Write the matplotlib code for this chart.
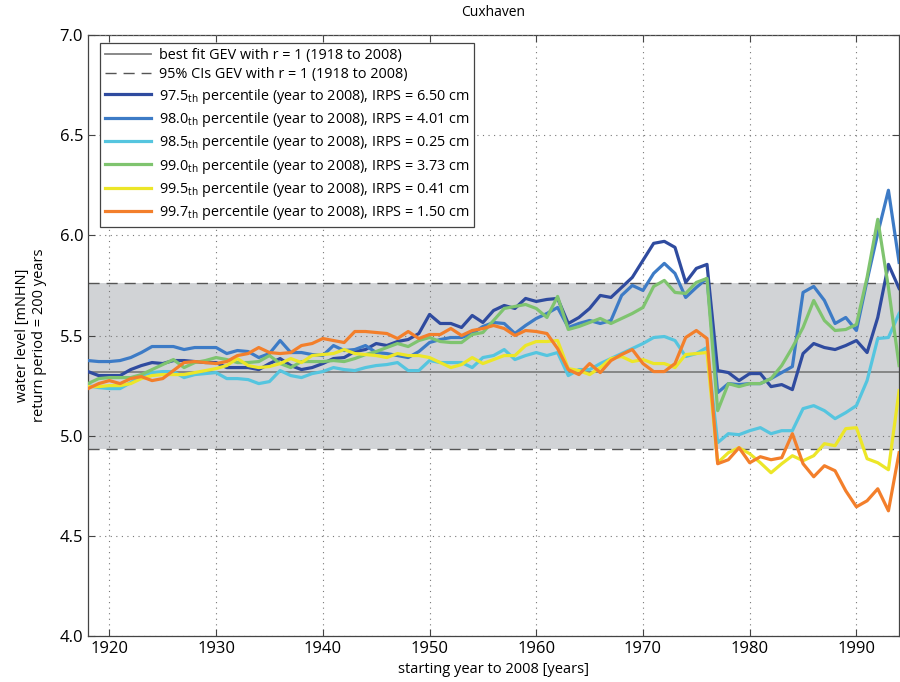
## Cuxhaven return level chart

import numpy as np
import matplotlib
matplotlib.use("Agg")
import matplotlib.pyplot as plt

## -----------------------
## Data
years = list(range(1918, 1995))

ci_low = 4.935
ci_high = 5.76
best_fit = 5.32

p975 = [5.32, 5.30, 5.30, 5.30, 5.33, 5.35, 5.365, 5.36, 5.375, 5.375,
        5.37, 5.365, 5.365, 5.34, 5.34, 5.34, 5.33, 5.36, 5.385, 5.35,
        5.33, 5.34, 5.36, 5.385, 5.39, 5.42, 5.43, 5.46, 5.45, 5.47,
        5.48, 5.51, 5.605, 5.56, 5.56, 5.54, 5.60, 5.565, 5.625, 5.65,
        5.635, 5.685, 5.67, 5.68, 5.685, 5.56, 5.59, 5.635, 5.70, 5.69,
        5.74, 5.79, 5.875, 5.96, 5.97, 5.94, 5.765, 5.835, 5.855, 5.325,
        5.315, 5.275, 5.31, 5.31, 5.245, 5.255, 5.23, 5.41, 5.46, 5.44,
        5.43, 5.45, 5.475, 5.415, 5.59, 5.855, 5.735]

p980 = [5.375, 5.37, 5.37, 5.375, 5.39, 5.415, 5.445, 5.445, 5.445, 5.43,
        5.44, 5.44, 5.44, 5.41, 5.425, 5.42, 5.39, 5.41, 5.475, 5.415,
        5.415, 5.405, 5.40, 5.45, 5.425, 5.43, 5.45, 5.415, 5.41, 5.40,
        5.39, 5.42, 5.465, 5.48, 5.49, 5.49, 5.51, 5.545, 5.565, 5.56,
        5.51, 5.55, 5.585, 5.61, 5.64, 5.54, 5.56, 5.575, 5.56, 5.575,
        5.70, 5.75, 5.725, 5.81, 5.86, 5.81, 5.69, 5.74, 5.785, 5.215,
        5.26, 5.255, 5.26, 5.26, 5.285, 5.315, 5.345, 5.715, 5.745, 5.675,
        5.56, 5.59, 5.525, 5.775, 6.01, 6.225, 5.865]

p985 = [5.25, 5.24, 5.235, 5.235, 5.265, 5.30, 5.315, 5.32, 5.32, 5.29,
        5.305, 5.31, 5.315, 5.285, 5.285, 5.28, 5.26, 5.27, 5.325, 5.30,
        5.29, 5.31, 5.32, 5.34, 5.33, 5.325, 5.34, 5.35, 5.355, 5.365,
        5.325, 5.325, 5.375, 5.365, 5.365, 5.365, 5.34, 5.39, 5.40, 5.43,
        5.38, 5.40, 5.415, 5.40, 5.415, 5.30, 5.33, 5.33, 5.36, 5.385,
        5.41, 5.435, 5.46, 5.49, 5.495, 5.475, 5.395, 5.41, 5.44, 4.965,
        5.01, 5.005, 5.025, 5.04, 5.01, 5.025, 5.025, 5.135, 5.15, 5.125,
        5.085, 5.115, 5.15, 5.275, 5.485, 5.49, 5.61]

p990 = [5.26, 5.285, 5.29, 5.29, 5.29, 5.305, 5.33, 5.355, 5.38, 5.34,
        5.365, 5.375, 5.39, 5.38, 5.365, 5.365, 5.37, 5.40, 5.36, 5.34,
        5.37, 5.37, 5.37, 5.375, 5.37, 5.385, 5.405, 5.42, 5.44, 5.46,
        5.445, 5.475, 5.49, 5.47, 5.465, 5.465, 5.505, 5.515, 5.575, 5.635,
        5.645, 5.655, 5.635, 5.59, 5.695, 5.53, 5.545, 5.565, 5.585, 5.56,
        5.585, 5.61, 5.64, 5.745, 5.775, 5.715, 5.71, 5.765, 5.785, 5.125,
        5.26, 5.245, 5.26, 5.26, 5.285, 5.35, 5.44, 5.54, 5.675, 5.575,
        5.525, 5.53, 5.555, 5.79, 6.08, 5.74, 5.35]

p995 = [5.245, 5.245, 5.25, 5.25, 5.26, 5.285, 5.30, 5.305, 5.305, 5.305,
        5.315, 5.325, 5.335, 5.35, 5.385, 5.35, 5.34, 5.345, 5.36, 5.385,
        5.365, 5.40, 5.405, 5.41, 5.43, 5.41, 5.405, 5.40, 5.39, 5.41,
        5.40, 5.40, 5.39, 5.365, 5.34, 5.355, 5.39, 5.36, 5.38, 5.40,
        5.40, 5.45, 5.47, 5.47, 5.475, 5.335, 5.325, 5.305, 5.34, 5.385,
        5.395, 5.37, 5.38, 5.36, 5.36, 5.34, 5.405, 5.41, 5.415, 4.865,
        4.915, 4.94, 4.91, 4.865, 4.815, 4.86, 4.90, 4.875, 4.90, 4.96,
        4.95, 5.035, 5.04, 4.885, 4.865, 4.83, 5.225]

p997 = [5.235, 5.26, 5.275, 5.26, 5.285, 5.295, 5.275, 5.285, 5.325, 5.365,
        5.37, 5.365, 5.36, 5.37, 5.40, 5.41, 5.44, 5.415, 5.41, 5.415,
        5.45, 5.46, 5.485, 5.475, 5.465, 5.52, 5.52, 5.515, 5.51, 5.485,
        5.52, 5.485, 5.505, 5.505, 5.535, 5.50, 5.525, 5.535, 5.55, 5.535,
        5.50, 5.525, 5.52, 5.51, 5.435, 5.33, 5.305, 5.36, 5.315, 5.375,
        5.405, 5.43, 5.36, 5.32, 5.32, 5.36, 5.49, 5.525, 5.485, 4.86,
        4.88, 4.94, 4.865, 4.895, 4.88, 4.89, 5.01, 4.86, 4.795, 4.85,
        4.825, 4.725, 4.645, 4.675, 4.735, 4.625, 4.915]

pct_names = ["97.5", "98.0", "98.5", "99.0", "99.5", "99.7"]
irps = ["6.50", "4.01", "0.25", "3.73", "0.41", "1.50"]
series = [p975, p980, p985, p990, p995, p997]
colors = ["#2f4b9f", "#3d7bc6", "#55c5df", "#7fc46f", "#ece628", "#f37f2b"]

## -----------------------
## Plot
plt.rcParams['font.family'] = ['Open Sans', 'DejaVu Sans']
narrow = ['Liberation Sans Narrow', 'Open Sans', 'DejaVu Sans']

fig = plt.figure(figsize=(9, 6.82), dpi=100)
ax = fig.add_axes([0.0978, 0.0674, 0.9012, 0.8813])

ax.axhspan(ci_low, ci_high, color="#d1d3d6", zorder=0, lw=0)
ax.axhline(best_fit, color="#808080", lw=1.3, zorder=1,
           label="best fit GEV with r = 1 (1918 to 2008)")
ax.axhline(ci_high, color="#555555", lw=1.0, ls=(0, (8, 5)), zorder=1,
           label="95% CIs GEV with r = 1 (1918 to 2008)")
ax.axhline(ci_low, color="#555555", lw=1.0, ls=(0, (8, 5)), zorder=1)

for vals, c, nm, ir in zip(series, colors, pct_names, irps):
    ax.plot(years, vals, color=c, lw=2.3, zorder=3,
            label=nm + r"$_\mathregular{th}$ percentile (year to 2008), IRPS = " + ir + " cm")

ax.set_xlim(1918, 1994)
ax.set_ylim(4.0, 7.0)
ax.set_xticks(np.arange(1920, 1991, 10))
ax.set_yticks(np.arange(4.0, 7.01, 0.5))
ax.set_yticklabels([f"{v:.1f}" for v in np.arange(4.0, 7.01, 0.5)])
ax.grid(True, ls=(0, (1, 4)), color="#777777", lw=0.8)
ax.set_axisbelow(False)
ax.tick_params(direction="in", top=True, right=True, length=5, labelsize=12,
               color="#444444")
for lab in ax.get_xticklabels() + ax.get_yticklabels():
    lab.set_family(narrow)
for sp in ax.spines.values():
    sp.set_color("#444444")
    sp.set_linewidth(0.9)

ax.set_title("Cuxhaven", fontsize=10, pad=14)
ax.set_xlabel("starting year to 2008 [years]", fontsize=10.5)
ax.set_ylabel("water level [mNHN]\nreturn period = 200 years", fontsize=10.5,
              labelpad=9)

leg = ax.legend(loc="upper left", bbox_to_anchor=(0.0148, 0.987), fontsize=10.4,
                handlelength=3.2, handletextpad=0.5, labelspacing=0.3,
                borderpad=0.35, borderaxespad=0, fancybox=False, framealpha=1,
                edgecolor="#444444")
leg.get_frame().set_linewidth(0.9)

fig.savefig("out.png", dpi=100)
